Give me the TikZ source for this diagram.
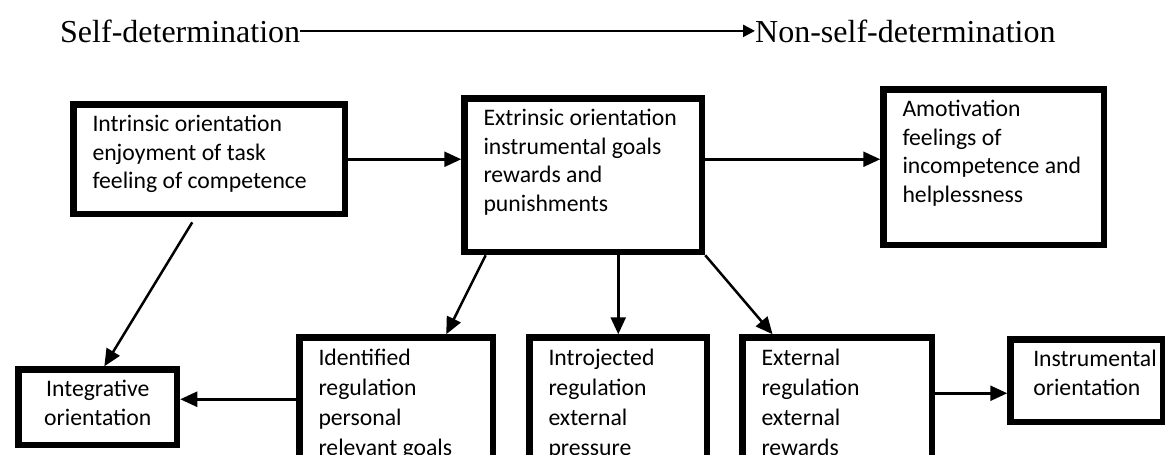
\documentclass[tikz,border=0pt]{standalone}
\usepackage{fontspec}
\setmainfont{Liberation Serif}
\newfontfamily\boxfont{Carlito}
\usetikzlibrary{arrows.meta,calc}
\newcommand{\boxtext}[3]{\parbox[c][#2pt][t]{#1pt}{\strut#3}}

\begin{document}
\begin{tikzpicture}[x=1pt,y=-1pt,
	box/.style={draw,line width=6.5pt,anchor=north west,inner xsep=19pt,inner ysep=7pt,
		font=\boxfont\fontsize{23.7}{28.7}\selectfont},
	lowbox/.style={box,font=\boxfont\fontsize{23.7}{30}\selectfont},
	arr/.style={line width=2.5pt,-{Triangle[length=17pt,width=15pt]}},
	headtxt/.style={anchor=base west,inner sep=0pt,font=\fontsize{32}{38}\selectfont}]
	\useasboundingbox (0,0) rectangle (1165,455);
	\clip (0,0) rectangle (1165,455);
	\node[headtxt] (self) at (60,42) {Self-determination};
	\node[headtxt] (nonself) at (755,42) {Non-self-determination};
	\draw[line width=2.5pt,-{Triangle[length=12pt,width=12pt]}] (self.east) -- (nonself.west);
	\node[box] (intr) at (70.25,101.25) {\boxtext{233.5}{95.5}{Intrinsic orientation\\enjoyment of task\\feeling of competence}};
	\node[box] (extr) at (461.25,95.25) {\boxtext{199.5}{139.5}{Extrinsic orientation\\instrumental goals\\rewards and\\punishments}};
	\node[box] (amot) at (880.25,86.25) {\boxtext{182.5}{141.5}{Amotivation\\feelings of\\incompetence and\\helplessness}};
	\node[box] (integ) at (15.25,366.25) {\boxtext{120.5}{61.5}{\centering Integrative\\orientation}};
	\node[lowbox] (ident) at (296.25,334.25) {\boxtext{155.5}{136.75}{Identified\\regulation\\personal\\relevant goals}};
	\node[lowbox] (introj) at (526.25,334.25) {\boxtext{139.5}{136.75}{Introjected\\regulation\\external\\pressure}};
	\node[lowbox] (ext) at (739.25,334.25) {\boxtext{151.5}{136.75}{External\\regulation\\external\\rewards}};
	\node[box,inner xsep=22.75pt] (instr) at (1007.25,336.25) {\boxtext{107}{68.5}{Instrumental\\orientation}};
	\draw[arr] (intr.east) -- (intr.east -| extr.west);
	\draw[arr] (extr.east |- intr.east) -- (amot.west |- intr.east);
	\draw[arr,shorten <=6pt] ($(intr.south west)!0.45!(intr.south east)$) -- ($(integ.north west)!0.54!(integ.north east)$);
	\draw[arr] ($(extr.south west)!0.1!(extr.south east)$) -- ($(ident.north west)!0.75!(ident.north east)$);
	\draw[arr] (introj.north |- extr.south) -- (introj.north);
	\draw[arr] (extr.south east) -- ($(ext.north west)!0.17!(ext.north east)$);
	\coordinate (intoInteg) at ([yshift=8pt]integ.east);
	\draw[arr] (ident.west |- intoInteg) -- (intoInteg);
	\coordinate (intoInstr) at ([yshift=-12.5pt]instr.west);
	\draw[arr] (ext.east |- intoInstr) -- (intoInstr);
\end{tikzpicture}
\end{document}
